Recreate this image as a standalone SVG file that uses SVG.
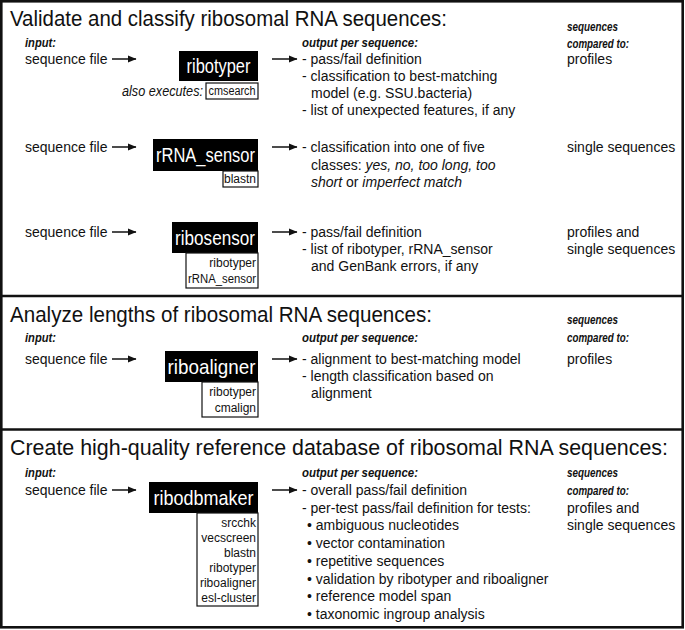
<svg xmlns="http://www.w3.org/2000/svg" width="685" height="630" viewBox="0 0 685 630">
<defs>
<style>
text{font-family:"Liberation Sans",Arial,sans-serif;fill:#111;}
.title{font-size:21.5px;}
.body{font-size:14px;}
.lab{font-size:13.5px;font-weight:bold;font-style:italic;}
.it{font-style:italic;}
.prog{font-size:21px;fill:#fff;text-anchor:middle;}
.sub{font-size:12px;text-anchor:end;}
.box{fill:#000;}
.subbox{fill:#fff;stroke:#111;stroke-width:1.2;}
.frame{fill:none;stroke:#111;stroke-width:2.6;}
.conn line{stroke:#111;stroke-width:1.5;marker-end:url(#ah);}
</style>
<marker id="ah" markerUnits="userSpaceOnUse" markerWidth="9" markerHeight="8" refX="8" refY="4" orient="auto">
<path d="M0,0.5 L8.5,4 L0,7.5 z" fill="#111"/>
</marker>
</defs>
<rect x="0" y="0" width="685" height="630" fill="#fff"/>
<rect class="frame" x="1.3" y="1.3" width="681.4" height="626"/>
<line class="frame" x1="1" y1="296" x2="683" y2="296"/>
<line class="frame" x1="1" y1="429.5" x2="683" y2="429.5"/>

<!-- Section 1 -->
<text class="title" x="10" y="26" textLength="437" lengthAdjust="spacingAndGlyphs">Validate and classify ribosomal RNA sequences:</text>
<text class="lab" x="25" y="47" textLength="31" lengthAdjust="spacingAndGlyphs">input:</text>
<text class="lab" x="302" y="47" textLength="116" lengthAdjust="spacingAndGlyphs">output per sequence:</text>
<text class="lab" x="567" y="31" textLength="51" lengthAdjust="spacingAndGlyphs">sequences</text>
<text class="lab" x="567" y="48" textLength="62" lengthAdjust="spacingAndGlyphs">compared to:</text>

<g id="in1"><text class="body" x="25" y="64">sequence file</text></g>
<g id="ribotyper">
<rect class="box" x="179" y="51" width="79" height="30"/>
<text class="prog" x="218.5" y="73" textLength="64" lengthAdjust="spacingAndGlyphs">ribotyper</text>
<text class="body it" x="203" y="96" text-anchor="end" textLength="81" lengthAdjust="spacingAndGlyphs">also executes:</text>
<rect class="subbox" x="206" y="83" width="52" height="16"/>
<text class="sub" x="232" y="95" style="text-anchor:middle" textLength="47" lengthAdjust="spacingAndGlyphs">cmsearch</text>
</g>
<g id="out1">
<text class="body" x="302" y="64">- pass/fail definition</text>
<text class="body" x="302" y="81">- classification to best-matching</text>
<text class="body" x="311" y="98">model (e.g. SSU.bacteria)</text>
<text class="body" x="302" y="115">- list of unexpected features, if any</text>
</g>
<g id="cmp1"><text class="body" x="567" y="64">profiles</text></g>

<g id="in2"><text class="body" x="25" y="152">sequence file</text></g>
<g id="rRNA_sensor">
<rect class="box" x="153" y="139" width="105" height="32"/>
<text class="prog" x="205.5" y="162" textLength="99" lengthAdjust="spacingAndGlyphs">rRNA_sensor</text>
<rect class="subbox" x="223" y="171" width="35" height="16"/>
<text class="sub" x="256" y="183">blastn</text>
</g>
<g id="out2">
<text class="body" x="302" y="152">- classification into one of five</text>
<text class="body" x="311" y="169.5">classes: <tspan class="it">yes, no, too long, too</tspan></text>
<text class="body" x="311" y="187"><tspan class="it">short</tspan> or <tspan class="it">imperfect match</tspan></text>
</g>
<g id="cmp2"><text class="body" x="567" y="152">single sequences</text></g>

<g id="in3"><text class="body" x="25" y="237">sequence file</text></g>
<g id="ribosensor">
<rect class="box" x="172" y="222" width="86" height="31"/>
<text class="prog" x="215" y="245" textLength="80" lengthAdjust="spacingAndGlyphs">ribosensor</text>
<rect class="subbox" x="186" y="253" width="72" height="35"/>
<text class="sub" x="256" y="267">ribotyper</text>
<text class="sub" x="256" y="283" textLength="68" lengthAdjust="spacingAndGlyphs">rRNA_sensor</text>
</g>
<g id="out3">
<text class="body" x="302" y="237">- pass/fail definition</text>
<text class="body" x="302" y="254">- list of ribotyper, rRNA_sensor</text>
<text class="body" x="311" y="271">and GenBank errors, if any</text>
</g>
<g id="cmp3">
<text class="body" x="567" y="237">profiles and</text>
<text class="body" x="567" y="254">single sequences</text>
</g>

<!-- Section 2 -->
<text class="title" x="10" y="322" textLength="422" lengthAdjust="spacingAndGlyphs">Analyze lengths of ribosomal RNA sequences:</text>
<text class="lab" x="25" y="342" textLength="31" lengthAdjust="spacingAndGlyphs">input:</text>
<text class="lab" x="302" y="342" textLength="116" lengthAdjust="spacingAndGlyphs">output per sequence:</text>
<text class="lab" x="567" y="324" textLength="51" lengthAdjust="spacingAndGlyphs">sequences</text>
<text class="lab" x="567" y="342" textLength="62" lengthAdjust="spacingAndGlyphs">compared to:</text>

<g id="in4"><text class="body" x="25" y="364">sequence file</text></g>
<g id="riboaligner">
<rect class="box" x="165" y="351" width="93" height="31"/>
<text class="prog" x="211.5" y="374" textLength="88" lengthAdjust="spacingAndGlyphs">riboaligner</text>
<rect class="subbox" x="202" y="382" width="56" height="35"/>
<text class="sub" x="256" y="396">ribotyper</text>
<text class="sub" x="256" y="412">cmalign</text>
</g>
<g id="out4">
<text class="body" x="302" y="364">- alignment to best-matching model</text>
<text class="body" x="302" y="381">- length classification based on</text>
<text class="body" x="311" y="398">alignment</text>
</g>
<g id="cmp4"><text class="body" x="567" y="364">profiles</text></g>

<!-- Section 3 -->
<text class="title" x="10" y="455" textLength="658" lengthAdjust="spacingAndGlyphs">Create high-quality reference database of ribosomal RNA sequences:</text>
<text class="lab" x="25" y="477" textLength="31" lengthAdjust="spacingAndGlyphs">input:</text>
<text class="lab" x="302" y="477" textLength="116" lengthAdjust="spacingAndGlyphs">output per sequence:</text>
<text class="lab" x="567" y="477" textLength="51" lengthAdjust="spacingAndGlyphs">sequences</text>
<text class="lab" x="567" y="495" textLength="62" lengthAdjust="spacingAndGlyphs">compared to:</text>

<g id="in5"><text class="body" x="25" y="495">sequence file</text></g>
<g id="ribodbmaker">
<rect class="box" x="149" y="482" width="109" height="31"/>
<text class="prog" x="203.5" y="505" textLength="100" lengthAdjust="spacingAndGlyphs">ribodbmaker</text>
<rect class="subbox" x="197" y="513" width="61" height="93"/>
<text class="sub" x="256" y="527">srcchk</text>
<text class="sub" x="256" y="542">vecscreen</text>
<text class="sub" x="256" y="557">blastn</text>
<text class="sub" x="256" y="572">ribotyper</text>
<text class="sub" x="256" y="587">riboaligner</text>
<text class="sub" x="256" y="602">esl-cluster</text>
</g>
<g id="out5">
<text class="body" x="302" y="495">- overall pass/fail definition</text>
<text class="body" x="302" y="513">- per-test pass/fail definition for tests:</text>
<text class="body" x="307" y="530">• ambiguous nucleotides</text>
<text class="body" x="307" y="548">• vector contamination</text>
<text class="body" x="307" y="566">• repetitive sequences</text>
<text class="body" x="307" y="584">• validation by ribotyper and riboaligner</text>
<text class="body" x="307" y="601">• reference model span</text>
<text class="body" x="307" y="619">• taxonomic ingroup analysis</text>
</g>
<g id="cmp5">
<text class="body" x="567" y="513">profiles and</text>
<text class="body" x="567" y="530">single sequences</text>
</g>

<g id="connectors" class="conn">
<line x1="112" y1="59" x2="136" y2="59"/>
<line x1="272" y1="59" x2="297" y2="59"/>
<line x1="112" y1="147" x2="136" y2="147"/>
<line x1="272" y1="147" x2="297" y2="147"/>
<line x1="112" y1="232" x2="136" y2="232"/>
<line x1="272" y1="232" x2="297" y2="232"/>
<line x1="112" y1="359" x2="136" y2="359"/>
<line x1="272" y1="359" x2="297" y2="359"/>
<line x1="112" y1="490" x2="136" y2="490"/>
<line x1="272" y1="490" x2="297" y2="490"/>
</g>
</svg>
